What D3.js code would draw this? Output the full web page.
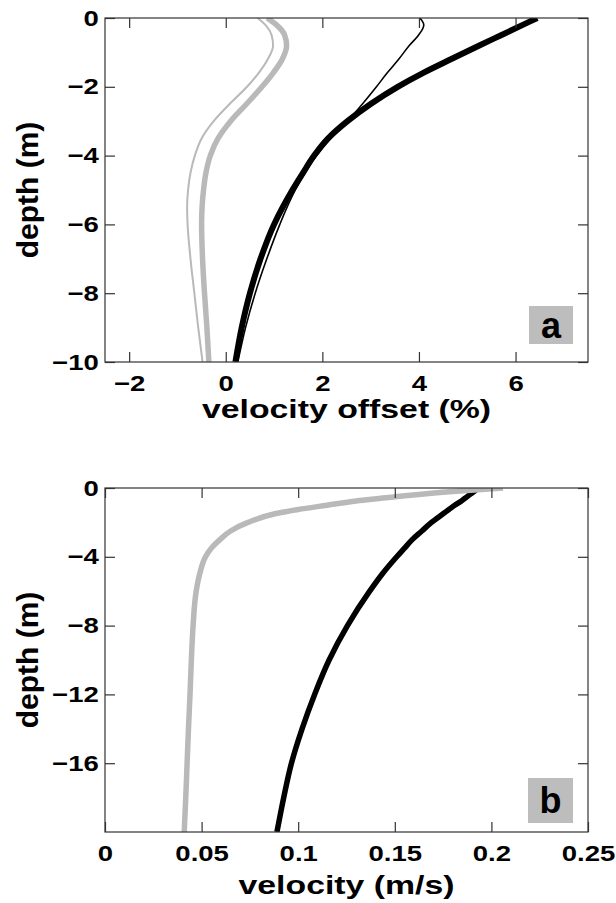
<!DOCTYPE html>
<html>
<head>
<meta charset="utf-8">
<script src="https://cdn.jsdelivr.net/npm/d3@7"></script>
<style>
  body { margin: 0; background: #fff; }
  text { font-family: "Liberation Sans", Arial, Helvetica, sans-serif; font-weight: bold; fill: #000; }
</style>
</head>
<body>
<svg id="chart" width="616" height="903"></svg>
<script>
// panel a: velocity offset (%) vs depth (m)
const depthA = [0, -0.2, -0.5, -0.8, -1.2, -1.6, -2, -2.5, -3, -3.5, -4, -4.5, -5, -5.5, -6, -7, -8, -9, -10];
const thinGrayA  = [0.66, 0.82, 0.95, 0.98, 0.87, 0.68, 0.44, 0.08, -0.25, -0.5, -0.64, -0.73, -0.78, -0.8, -0.79, -0.73, -0.65, -0.57, -0.48];
const thickGrayA = [0.86, 1.05, 1.22, 1.26, 1.17, 0.98, 0.75, 0.43, 0.1, -0.16, -0.32, -0.41, -0.46, -0.49, -0.5, -0.48, -0.44, -0.39, -0.35];
const thinBlackA = [4.02, 4.1, 3.99, 3.8, 3.58, 3.34, 3.12, 2.83, 2.52, 2.17, 1.88, 1.64, 1.44, 1.27, 1.12, 0.85, 0.61, 0.41, 0.25];
const thickBlackA = [6.45, 6.15, 5.7, 5.25, 4.66, 4.08, 3.56, 3.0, 2.52, 2.12, 1.83, 1.6, 1.38, 1.18, 1.0, 0.72, 0.5, 0.33, 0.2];
const xTicksA = [-2, 0, 2, 4, 6];
const yTicksA = [0, -2, -4, -6, -8, -10];

// panel b: velocity (m/s) vs depth (m)
const depthB = [0, -0.2, -0.5, -0.75, -1, -1.25, -1.5, -2, -2.5, -3, -3.5, -4, -5, -6, -8, -10, -12, -14, -16, -18, -20];
const grayB  = [0.206, 0.180, 0.151, 0.130, 0.115, 0.100, 0.088, 0.074, 0.065, 0.0595, 0.055, 0.052, 0.049, 0.0472, 0.0456, 0.0447, 0.044, 0.0432, 0.0425, 0.0418, 0.041];
const blackB = [0.1935, 0.191, 0.1875, 0.1845, 0.181, 0.178, 0.175, 0.169, 0.164, 0.159, 0.155, 0.151, 0.1435, 0.137, 0.1255, 0.116, 0.1085, 0.102, 0.0965, 0.0925, 0.089];
const xTicksB = [0, 0.05, 0.1, 0.15, 0.2, 0.25];
const yTicksB = [0, -4, -8, -12, -16];

const svg = d3.select("#chart");
const gray = "#b9b9b9";
const axisColor = "#333";

function panel(opts) {
  const {left, right, top, bottom} = opts;
  const x = d3.scaleLinear().domain(opts.xDomain).range([left, right]);
  const y = d3.scaleLinear().domain(opts.yDomain).range([bottom, top]);
  const g = svg.append("g");

  const clipId = "clip-" + opts.name;
  g.append("clipPath").attr("id", clipId)
    .append("rect")
    .attr("x", left).attr("y", top)
    .attr("width", right - left).attr("height", bottom - top);

  const line = d3.line()
      .x(d => x(d.v))
      .y(d => y(d.d))
      .curve(d3.curveMonotoneY);

  const lines = g.append("g").attr("clip-path", `url(#${clipId})`);
  opts.series.forEach(s => {
    const pts = s.values.map((v, i) => ({v: v, d: opts.depth[i]}));
    lines.append("path")
      .datum(pts)
      .attr("fill", "none")
      .attr("stroke", s.color)
      .attr("stroke-width", s.width)
      .attr("stroke-linejoin", "round")
      .attr("d", line);
  });

  // box
  g.append("rect")
    .attr("x", left).attr("y", top)
    .attr("width", right - left).attr("height", bottom - top)
    .attr("fill", "none").attr("stroke", axisColor).attr("stroke-width", 1.2);

  const styleAxis = sel => {
    sel.select(".domain").remove();
    sel.selectAll("line").attr("stroke", axisColor).attr("stroke-width", 1.2);
  };

  g.append("g").attr("transform", `translate(0,${bottom})`)
    .call(d3.axisBottom(x).tickValues(opts.xTicks).tickSize(-10).tickPadding(13)
      .tickFormat(opts.xFormat))
    .call(styleAxis)
    .call(a => a.selectAll("text")
      .attr("font-size", 22).attr("font-family", null)
      .attr("transform", "scale(1.25,1)"));

  g.append("g").attr("transform", `translate(0,${top})`)
    .call(d3.axisTop(x).tickValues(opts.xTicks).tickSize(-10).tickFormat(""))
    .call(styleAxis);

  g.append("g").attr("transform", `translate(${left},0)`)
    .call(d3.axisLeft(y).tickValues(opts.yTicks).tickSize(-10).tickPadding(5))
    .call(styleAxis)
    .call(a => a.selectAll("text")
      .attr("font-size", 22).attr("font-family", null)
      .attr("transform", "scale(1.25,1)"));

  g.append("g").attr("transform", `translate(${right},0)`)
    .call(d3.axisRight(y).tickValues(opts.yTicks).tickSize(-10).tickFormat(""))
    .call(styleAxis);

  // axis titles
  g.append("text")
    .attr("transform", `translate(${(left + right) / 2},${opts.xTitleY}) scale(1.3,1)`)
    .attr("text-anchor", "middle")
    .attr("font-size", 26)
    .text(opts.xTitle);

  g.append("text")
    .attr("transform", `translate(38,${(top + bottom) / 2}) rotate(-90)`)
    .attr("text-anchor", "middle")
    .attr("font-size", 30)
    .text("depth (m)");

  // panel letter
  const bx = opts.letterBox;
  g.append("rect")
    .attr("x", bx[0]).attr("y", bx[1])
    .attr("width", bx[2]).attr("height", bx[3])
    .attr("fill", "#bdbdbd");
  g.append("text")
    .attr("x", bx[0] + bx[2] / 2)
    .attr("y", bx[1] + bx[3] / 2)
    .attr("dy", "0.36em")
    .attr("text-anchor", "middle")
    .attr("font-size", 36)
    .text(opts.letter);
}

panel({
  name: "a",
  left: 105, right: 588, top: 18, bottom: 362,
  xDomain: [-2.5, 7.5], yDomain: [-10, 0],
  xTicks: xTicksA, yTicks: yTicksA,
  xFormat: d3.format("d"),
  depth: depthA,
  series: [
    {values: thinGrayA, color: gray, width: 2},
    {values: thickGrayA, color: gray, width: 5.5},
    {values: thickBlackA, color: "#000", width: 6},
    {values: thinBlackA, color: "#000", width: 1.6}
  ],
  xTitle: "velocity offset (%)", xTitleY: 418,
  letter: "a", letterBox: [529, 306, 44, 38]
});

panel({
  name: "b",
  left: 105, right: 588, top: 488, bottom: 832,
  xDomain: [0, 0.25], yDomain: [-20, 0],
  xTicks: xTicksB, yTicks: yTicksB,
  xFormat: d => String(d),
  depth: depthB,
  series: [
    {values: blackB, color: "#000", width: 5.5},
    {values: grayB, color: gray, width: 5.5}
  ],
  xTitle: "velocity (m/s)", xTitleY: 894,
  letter: "b", letterBox: [528, 778, 45, 45]
});
</script>
</body>
</html>
